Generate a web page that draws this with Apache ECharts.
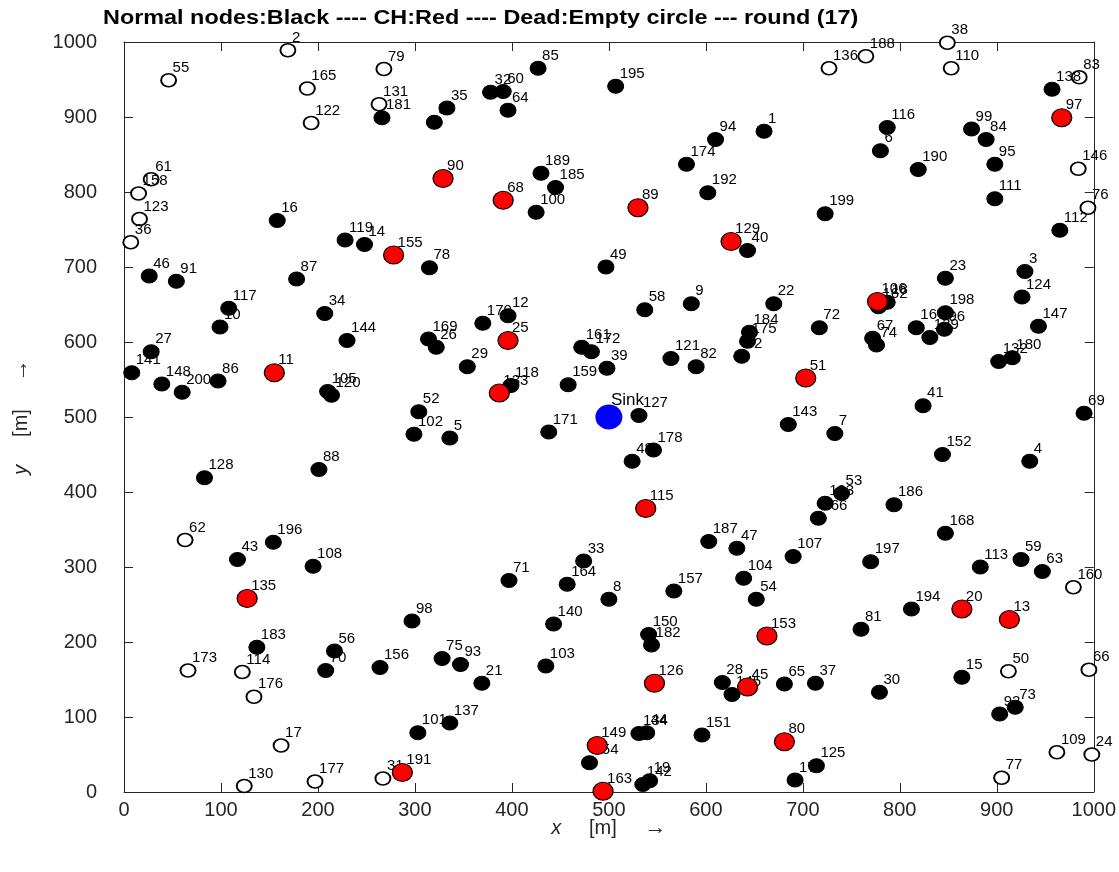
<!DOCTYPE html>
<html>
<head>
<meta charset="utf-8">
<script src="https://cdn.jsdelivr.net/npm/echarts@6/dist/echarts.min.js"></script>
<style>
  html, body { margin: 0; padding: 0; background: #ffffff; }
  #chart { width: 1119px; height: 872px; }
</style>
</head>
<body>
<div id="chart"></div>
<script>
// Node positions, index i holds node (i + 1)
const nodeX = [
  660,169,929,934,336,780,733,500,585,99,
  155,396,913,248,864,158,162,787,542,864,
  369,670,847,998,396,322,28,617,354,779,
  267,378,474,207,333,7,713,849,498,643,
  824,637,117,539,643,26,632,524,497,912,
  703,304,740,652,46,217,320,537,925,391,
  28,63,947,396,681,995,772,391,990,208,
  397,717,919,776,328,994,905,315,268,681,
  760,590,985,889,427,97,178,201,530,329,
  54,903,347,610,898,846,967,297,874,425,
  303,299,435,639,210,777,690,195,962,853,
  898,965,883,122,538,787,108,399,228,214,
  564,193,16,926,714,547,531,83,626,124,
  263,902,387,531,127,727,336,957,831,443,
  8,535,685,230,627,984,943,39,488,541,
  596,844,663,480,278,264,567,15,458,979,
  472,778,494,457,189,716,817,847,314,370,
  438,482,66,580,643,134,197,546,692,916,
  266,544,137,645,445,794,603,765,430,819,
  287,602,723,812,507,154,770,847,723,60
];
const nodeY = [
  881,989,694,441,472,855,478,257,651,620,
  559,635,230,730,153,762,62,653,15,244,
  145,651,685,50,602,593,587,146,567,133,
  18,933,308,638,912,733,145,999,565,722,
  515,581,310,79,140,688,325,441,700,161,
  552,507,398,257,949,188,893,643,310,934,
  817,336,294,909,144,163,605,789,505,162,
  282,619,113,596,178,779,19,699,964,67,
  217,567,953,870,965,548,684,430,779,818,
  681,104,170,870,837,617,899,228,884,773,
  79,477,168,285,534,654,314,301,53,965,
  791,749,300,160,378,886,645,542,736,529,
  578,892,764,660,35,145,502,419,734,8,
  917,574,532,78,258,965,92,937,606,224,
  559,10,490,602,130,831,621,544,62,210,
  76,450,208,39,716,166,268,798,543,273,
  593,647,1,277,938,365,619,345,604,625,
  480,587,162,837,601,127,14,456,16,579,
  899,196,193,613,806,383,334,981,825,830,
  26,799,385,244,941,333,307,639,771,533
];
// Cluster heads (red) and dead nodes (empty circles); all others are normal
const chIds = [11,13,20,25,45,51,68,80,89,90,97,106,115,126,129,133,135,149,153,155,163,191];
const deadIds = [2,17,24,31,36,38,50,55,61,62,66,76,77,79,83,109,110,114,122,123,130,131,136,146,158,160,165,173,176,177,188];
const sinkPos = [500, 500];
const sinkName = 'Sink';
const axisTicks = [0,100,200,300,400,500,600,700,800,900,1000];
const roundNo = 17;
const titleText = 'Normal nodes:Black ---- CH:Red ---- Dead:Empty circle --- round (' + roundNo + ')';

const FONT = '"Liberation Sans", Arial, Helvetica, sans-serif';

const normalData = [], chData = [], deadData = [];
for (let i = 0; i < nodeX.length; i++) {
  const id = i + 1;
  const pt = [nodeX[i], nodeY[i], id];
  if (chIds.includes(id)) chData.push(pt);
  else if (deadIds.includes(id)) deadData.push(pt);
  else normalData.push(pt);
}

const nodeLabel = {
  show: true,
  position: ['50%', '50%'],
  offset: [4, -5],
  align: 'left',
  verticalAlign: 'bottom',
  formatter: p => String(p.value[2]),
  color: '#000000',
  fontFamily: FONT,
  fontSize: 15
};

function nodeSeries(name, data, size, style, z) {
  return {
    name: name,
    type: 'scatter',
    data: data,
    symbol: 'circle',
    symbolSize: size,
    itemStyle: Object.assign({ opacity: 1 }, style),
    label: nodeLabel,
    z: z,
    silent: true,
    emphasis: { disabled: true },
    xAxisIndex: 0,
    yAxisIndex: 0
  };
}

const chart = echarts.init(document.getElementById('chart'), null, { renderer: 'canvas' });

const axisCommon = {
  type: 'value',
  min: 0,
  max: 1000,
  interval: 100,
  splitLine: { show: false },
  axisLine: { show: true, onZero: false, lineStyle: { color: '#262626', width: 1 } },
  axisTick: { show: true, inside: true, length: 9, lineStyle: { color: '#262626', width: 1 } }
};

const axisNameStyle = {
  color: '#262626', fontFamily: FONT, fontSize: 20,
  rich: {
    i: { fontStyle: 'italic', fontSize: 20, fontFamily: FONT, color: '#262626' },
    a: { fontSize: 22, fontFamily: FONT, color: '#262626' }
  }
};

chart.setOption({
  animation: false,
  backgroundColor: '#ffffff',
  graphic: [{
    type: 'text',
    left: 103,
    top: 8,
    scaleX: 1.17,
    silent: true,
    style: {
      text: titleText,
      fill: '#000000',
      font: 'bold 20px ' + FONT
    }
  }],
  grid: { left: 124, right: 25, top: 42, bottom: 80, containLabel: false },
  xAxis: [
    Object.assign({}, axisCommon, {
      position: 'bottom',
      axisLabel: { show: true, margin: 8, color: '#262626', fontFamily: FONT, fontSize: 20,
                   formatter: v => axisTicks.includes(v) ? String(v) : '' },
      name: '{i|x}     [m]     {a|→}',
      nameLocation: 'middle',
      nameGap: 25,
      nameMoveOverlap: false,
      nameTextStyle: axisNameStyle
    }),
    Object.assign({}, axisCommon, { position: 'top', axisLabel: { show: false } })
  ],
  yAxis: [
    Object.assign({}, axisCommon, {
      position: 'left',
      axisLabel: { show: true, margin: 27, color: '#262626', fontFamily: FONT, fontSize: 20,
                   formatter: v => axisTicks.includes(v) ? String(v) : '' },
      name: '{i|y}     [m]     {a|→}',
      nameLocation: 'middle',
      nameRotate: 90,
      nameGap: 92,
      nameMoveOverlap: false,
      nameTextStyle: axisNameStyle
    }),
    Object.assign({}, axisCommon, { position: 'right', axisLabel: { show: false } })
  ],
  series: [
    nodeSeries('Normal', normalData, [16, 14], { color: '#000000', borderColor: '#000000', borderWidth: 1 }, 2),
    nodeSeries('Dead', deadData, [15, 13], { color: '#ffffff', borderColor: '#000000', borderWidth: 1.8 }, 2),
    nodeSeries('CH', chData, [20, 18], { color: '#ff0000', borderColor: '#000000', borderWidth: 1.2 }, 3),
    {
      name: sinkName,
      type: 'scatter',
      data: [[sinkPos[0], sinkPos[1], sinkName]],
      symbol: 'circle',
      symbolSize: [27, 25],
      itemStyle: { color: '#0000ff', opacity: 1 },
      label: {
        show: true, position: ['50%', '50%'], offset: [2, -8], align: 'left', verticalAlign: 'bottom',
        formatter: p => p.value[2], color: '#000000', fontFamily: FONT, fontSize: 17
      },
      z: 4,
      silent: true,
      emphasis: { disabled: true }
    }
  ]
});
</script>
</body>
</html>
